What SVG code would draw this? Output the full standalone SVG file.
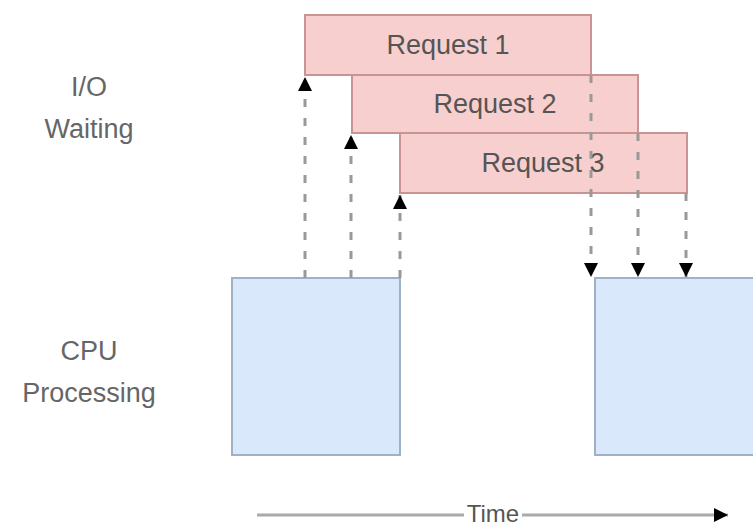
<svg xmlns="http://www.w3.org/2000/svg" width="753" height="528" viewBox="0 0 753 528">
  <style>
    .req { fill: #f8cfcf; stroke: #c99592; stroke-width: 2; }
    .cpu { fill: #dae8fc; stroke: #9fb0c9; stroke-width: 2; }
    .lbl { font-family: "Liberation Sans", Arial, sans-serif; font-size: 27px; fill: #555; text-anchor: middle; dominant-baseline: central; }
    .side { font-family: "Liberation Sans", Arial, sans-serif; font-size: 27px; fill: #666; text-anchor: middle; }
    .dash { stroke: #999; stroke-width: 3; stroke-dasharray: 8 11; fill: none; }
  </style>
  <defs>
    <marker id="tri" viewBox="0 0 12 12" refX="12" refY="6" markerWidth="14" markerHeight="14" markerUnits="userSpaceOnUse" orient="auto">
      <path d="M0,0 L12,6 L0,12 z" fill="#000"/>
    </marker>
  </defs>
  <rect width="753" height="528" fill="#fff"/>

  <g id="label-io">
    <text class="side" x="89" y="96">I/O</text>
    <text class="side" x="89" y="138">Waiting</text>
  </g>
  <g id="label-cpu">
    <text class="side" x="89" y="360">CPU</text>
    <text class="side" x="89" y="402">Processing</text>
  </g>

  <g id="cpu1"><rect class="cpu" x="232" y="278" width="168" height="177"/></g>
  <g id="cpu2"><rect class="cpu" x="595" y="278" width="170" height="177"/></g>

  <g id="request1">
    <rect class="req" x="305" y="15" width="286" height="60"/>
    <text class="lbl" x="448" y="45">Request 1</text>
  </g>
  <g id="request2">
    <rect class="req" x="352" y="75" width="286" height="58"/>
    <text class="lbl" x="495" y="104">Request 2</text>
  </g>
  <g id="request3">
    <rect class="req" x="400" y="133" width="287" height="60"/>
    <text class="lbl" x="543" y="163">Request 3</text>
  </g>

  <g id="connectors">
    <line class="dash" x1="305" y1="278" x2="305" y2="77" marker-end="url(#tri)"/>
    <line class="dash" x1="351" y1="278" x2="351" y2="135" marker-end="url(#tri)"/>
    <line class="dash" x1="400" y1="278" x2="400" y2="195" marker-end="url(#tri)"/>
    <line class="dash" x1="591" y1="75" x2="591" y2="277" marker-end="url(#tri)"/>
    <line class="dash" x1="638" y1="133" x2="638" y2="277" marker-end="url(#tri)"/>
    <line class="dash" x1="686" y1="193" x2="686" y2="277" marker-end="url(#tri)"/>
  </g>

  <g id="time-axis">
    <line x1="257" y1="515" x2="728" y2="515" stroke="#aaa" stroke-width="3" marker-end="url(#tri)"/>
    <rect x="464" y="500" width="58" height="28" fill="#fff"/>
    <text class="lbl" x="493" y="513" style="font-size:24px">Time</text>
  </g>
</svg>
